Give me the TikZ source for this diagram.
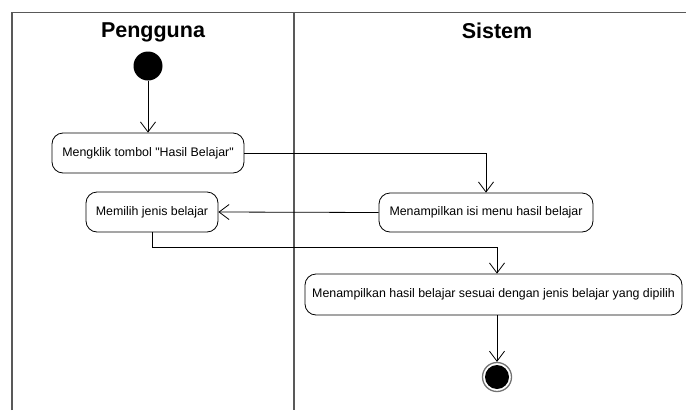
\documentclass[tikz,border=0pt]{standalone}
\usepackage{fontspec}
\setmainfont{Liberation Sans}
\usetikzlibrary{arrows.meta,calc}
\begin{document}
\begin{tikzpicture}[x=1pt,y=-1pt,
  lane/.style={draw=black!65,line width=1.4pt},
  title/.style={font=\fontsize{21.5}{24}\selectfont\bfseries},
  action/.style={draw,rounded corners=11pt,line width=0.8pt,inner sep=0pt,
    font=\fontsize{12.4}{14}\selectfont},
  flow/.style={draw,line width=0.8pt,-{Straight Barb[length=10pt,width=15pt,line width=0.8pt]}},
  startnode/.style={circle,fill=black,minimum size=29pt,inner sep=0pt},
  endring/.style={circle,draw=black!55,line width=1.3pt,fill=white,minimum size=29pt,inner sep=0pt}]
\useasboundingbox (0,0) rectangle (686,410);
\fill[white] (0,0) rectangle (686,410);

% swimlane frame
\coordinate (tl) at (12,12.5);
\coordinate (tr) at (686,12.5);
\coordinate (bl) at (12,410);
\coordinate (dt) at (294,12.5);
\coordinate (db) at (294,410);
\draw[lane] (bl) -- (tl) -- (tr);
\draw[lane] (dt) -- (db);

\node[title] (lp) at (153,32) {Pengguna};
\node[title] (ls) at (497,31) {Sistem};

% activities
\node[startnode] (s) at (148,66) {};
\node[action,minimum width=192pt,minimum height=40pt] (a1) at (148,153) {Mengklik tombol \textquotedbl Hasil Belajar\textquotedbl};
\node[action,minimum width=132pt,minimum height=40pt] (a2) at (152,212) {Memilih jenis belajar};
\node[action,minimum width=214pt,minimum height=39pt] (a3) at (486,212.5) {Menampilkan isi menu hasil belajar};
\node[action,minimum width=377pt,minimum height=41pt] (a4) at (493.5,294.5) {Menampilkan hasil belajar sesuai dengan jenis belajar yang dipilih};
\node[endring] (e) at (497,377) {};
\fill[black] (e.center) circle (12pt);

% transitions
\draw[flow] (s) -- (a1);
\draw[flow] (a1.east) -| (a3.north);
\draw[flow] (a3.west) -- (a2.east);
\coordinate (bend) at ($(a2.south)+(0,15)$);
\draw[flow] (a2.south) -- (bend) -| (e.north |- a4.north);
\draw[flow] (e.north |- a4.south) -- (e.north);
\end{tikzpicture}
\end{document}
